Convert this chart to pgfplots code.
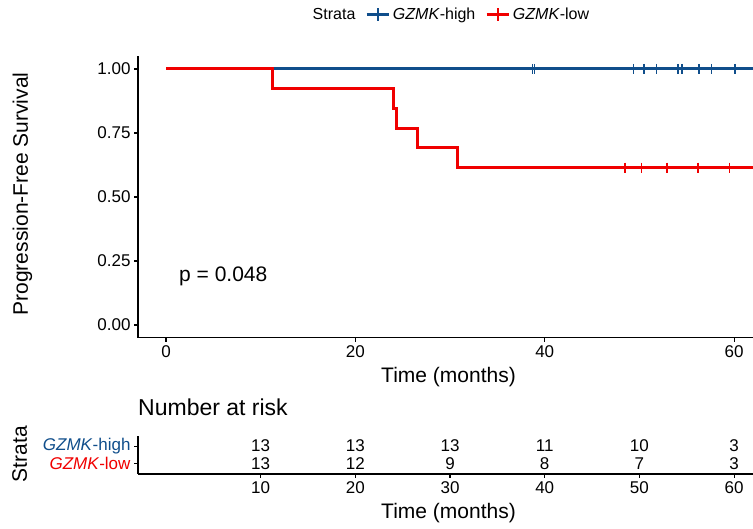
\documentclass[border=0pt]{standalone}
\usepackage{fontspec}
\setmainfont{Liberation Sans}
\usepackage{pgfplots}
\pgfplotsset{compat=1.18}
\usepackage{pgfplotstable}
\definecolor{zblue}{RGB}{16,78,139}
\definecolor{zred}{RGB}{240,0,0}
\newcommand{\fsTick}{\fontsize{17}{20}\selectfont}
\newcommand{\fsLab}{\fontsize{21}{24}\selectfont}
\newcommand{\fsLeg}{\fontsize{16}{19}\selectfont}
\newcommand{\fsTitle}{\fontsize{23}{26}\selectfont}

\pgfplotstableread{
t s
0 1
62 1
}\bluekm
\pgfplotstableread{
t s
0 1
11.27 0.923
24.08 0.846
24.37 0.769
26.58 0.692
30.81 0.615
62 0.615
}\redkm
\pgfplotstableread{
t s
38.7 1
38.9 1
49.4 1
50.5 1
51.8 1
54.1 1
54.5 1
56.3 1
57.6 1
60.1 1
}\bluecens
\pgfplotstableread{
t s
48.5 0.615
50.2 0.615
52.9 0.615
56.2 0.615
59.5 0.615
}\redcens
\pgfplotstableread{
t row n
10 2 13
20 2 13
30 2 13
40 2 11
50 2 10
60 2 3
10 1 13
20 1 12
30 1 9
40 1 8
50 1 7
60 1 3
}\risk

\pgfplotsset{
  kmbase/.style={
    scale only axis, width=615pt,
    xmin=-2.96, xmax=62,
    axis x line*=bottom, axis y line*=left,
    axis line style={line width=1.1pt, black, -},
    tick align=outside, major tick length=4pt,
    tick style={line width=1.1pt, black},
    /pgf/number format/assume math mode=true,
    ticklabel style={font=\fsTick, text=black},
    label style={font=\fsLab},
    xlabel style={at={(axis description cs:0.5,0)}, anchor=base, yshift=-44.5pt, xshift=3pt},
  }
}

\begin{document}
\begin{tikzpicture}
\path[use as bounding box] (0,0) rectangle (753pt,529pt);
\begin{axis}[kmbase,
  at={(138pt,191.2pt)}, anchor=south west,
  height=281.6pt,
  ymin=-0.05, ymax=1.05,
  xtick={0,20,40,60}, ytick={0,0.25,0.5,0.75,1},
  yticklabel style={/pgf/number format/fixed, /pgf/number format/fixed zerofill, /pgf/number format/precision=2},
  xlabel={Time (months)},
  ylabel={Progression-Free Survival},
  ylabel style={at={(axis description cs:-0.1789,0.5107)}, anchor=base, rotate=0},
  legend style={at={(axis description cs:0.508,1.148)}, anchor=center, legend columns=-1, draw=none, fill=none, font=\fsLeg,
    /tikz/every odd column/.append style={column sep=1pt},
    /tikz/every even column/.append style={column sep=8pt}},
]
\addplot[zblue, line width=3pt, const plot, forget plot] table[x=t,y=s]{\bluekm};
\addplot[zred, line width=3pt, const plot, forget plot] table[x=t,y=s]{\redkm};
\addplot[zblue, only marks, mark=+, mark size=5pt, mark options={line width=1.5pt}, forget plot] table[x=t,y=s]{\bluecens};
\addplot[zred, only marks, mark=+, mark size=5pt, mark options={line width=1.5pt}, forget plot] table[x=t,y=s]{\redcens};
\node[anchor=base west, inner sep=0pt, font=\fsLab] at (axis cs:1.37,0.168) {p = 0.048};
\addlegendimage{empty legend}
\addlegendentry{Strata}
\addlegendimage{legend image code/.code={\draw[zblue,line width=2.6pt] (0pt,0pt)--(22pt,0pt); \draw[zblue,line width=2.2pt] (11pt,-6.3pt)--(11pt,6.3pt);}}
\addlegendentry{\textit{GZMK}-high}
\addlegendimage{legend image code/.code={\draw[zred,line width=2.6pt] (0pt,0pt)--(22pt,0pt); \draw[zred,line width=2.2pt] (11pt,-6.3pt)--(11pt,6.3pt);}}
\addlegendentry{\textit{GZMK}-low}
\end{axis}

\begin{axis}[kmbase,
  at={(138pt,55pt)}, anchor=south west,
  height=38.3pt,
  ymin=0.4, ymax=2.6,
  xtick={10,20,30,40,50,60},
  ytick={1,2},
  yticklabels={\textcolor{zred}{\textit{GZMK}-low}, \textcolor{zblue}{\textit{GZMK}-high}},
  xlabel={Time (months)},
  ylabel={Strata},
  ylabel style={at={(axis description cs:-0.1805,0.522)}, anchor=base, rotate=0},
  title={Number at risk},
  title style={at={(axis description cs:0,1)}, anchor=base west, inner sep=0pt, yshift=14.5pt, font=\fsTitle},
  clip=false,
]
\addplot[only marks, mark=none, nodes near coords, point meta=explicit symbolic,
  nodes near coords style={anchor=center, inner sep=0pt, font=\fsTick, text=black}]
  table[x=t,y=row,meta=n]{\risk};
\end{axis}
\end{tikzpicture}
\end{document}
